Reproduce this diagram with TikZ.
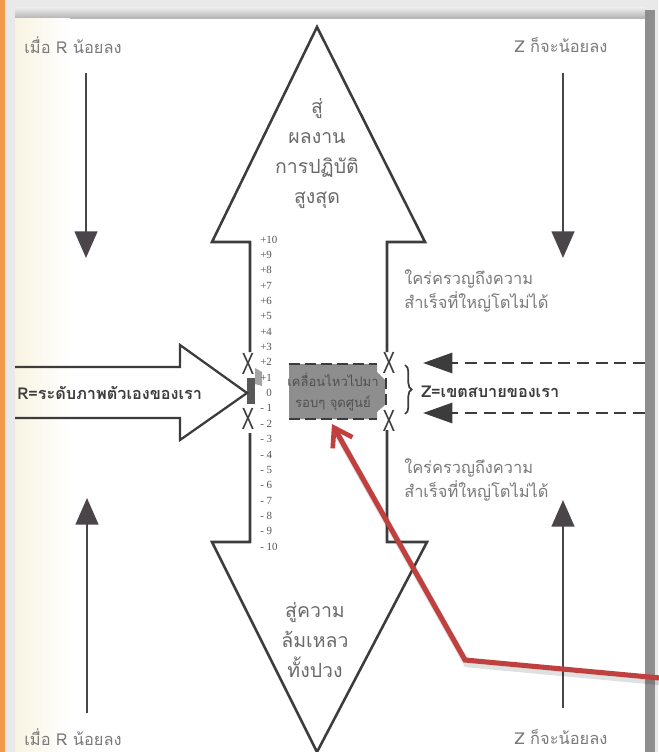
\documentclass[tikz,border=0pt]{standalone}
\usepackage{fontspec}
\setmainfont{Liberation Serif}
\newfontfamily\thai[Script=Thai]{Loma}
\newfontfamily\sansx{Liberation Sans}
\usetikzlibrary{arrows.meta,decorations.pathreplacing}
\definecolor{ink}{HTML}{3C3C3C}
\definecolor{ink2}{HTML}{4A4548}
\definecolor{txtgray}{HTML}{7A7A7A}
\definecolor{midgray}{HTML}{6A6A6A}
\definecolor{numc}{HTML}{555555}
\definecolor{boxg}{HTML}{8E8E8E}
\definecolor{redl}{HTML}{C0403F}
\definecolor{framelight}{HTML}{E9E9E9}
\definecolor{bandgray}{HTML}{8E8E8E}
\definecolor{orangeb}{HTML}{F29A4A}
\definecolor{cream}{HTML}{F8F4E2}
\tikzset{
  outline/.style={draw=ink, line width=1.9pt, line join=miter},
  gtext/.style={font=\thai\fontsize{12.3}{18.5}\selectfont, text=txtgray, inner sep=0pt},
  bigtext/.style={font=\thai\fontsize{14.6}{22.5}\selectfont, text=midgray, align=center, inner sep=0pt},
  boldlab/.style={font=\thai\bfseries\fontsize{12.2}{14}\selectfont, text=ink, inner sep=0pt},
  num/.style={font=\fontsize{8.2}{9}\selectfont, text=numc, anchor=west, inner sep=0pt},
  xmark/.style={font=\sansx\fontsize{23}{23}\selectfont, text=ink, inner sep=0pt},
  varrow/.style={draw=ink2, line width=1.9pt, -{Triangle[length=20pt,width=17pt]}},
  zarrow/.style={draw=ink, line width=2.2pt, dash pattern=on 9pt off 5pt, -{Triangle[length=22pt,width=15pt]}},
  redline/.style={draw=redl, line width=3.8pt, line join=miter},
  shadowline/.style={draw=black, opacity=0.12, line width=5pt},
}
\begin{document}
\begin{tikzpicture}[x=0.75pt,y=-0.75pt]
\useasboundingbox (0,0) rectangle (658,752);
% ---- frame ----
\fill[framelight] (0,0) rectangle (658,752);
\fill[orangeb] (0,0) rectangle (5,752);
\shade[top color=framelight, bottom color=bandgray!70] (15,8) rectangle (645,19);
\fill[bandgray] (645,10) rectangle (655,752);
\fill[white] (15,19) rectangle (645,752);
\shade[left color=cream, right color=white] (15,19) rectangle (70,752);

% ---- central double arrow ----
\draw[outline] (250,352) -- (250,242) -- (212,242) -- (317,27) -- (425,242) -- (387,242) -- (387,352);
\draw[outline] (250,433) -- (250,542) -- (212,542) -- (317,752) -- (427,542) -- (387,542) -- (387,430);
\node[bigtext] (up) at (317,154) {สู่\\ผลงาน\\การปฏิบัติ\\สูงสุด};
\node[bigtext] (down) at (315,640) {สู่ความ\\ล้มเหลว\\ทั้งปวง};

% ---- left block at shaft ----
\fill[ink!85] (247,378) rectangle (255,404);
\fill[boxg!80] (255,368) -- (262,372) -- (262,386) -- (255,384) -- cycle;

% ---- scale ----
\foreach \n in {1,...,10}{
  \node[num] at (260,{393-15.35*\n}) {+\n};
  \node[num] at (260,{393+15.35*\n}) {- \n};
}
\node[num] (zero) at (266,393) {0};

% ---- grey box ----
\fill[boxg] (289,364) -- (377,364) -- (377,372) -- (385,380) -- (385,405) -- (377,412) -- (377,419) -- (289,419) -- cycle;
\draw[ink, line width=2.2pt, dash pattern=on 8pt off 4pt] (289,364) -- (377,364);
\draw[ink, line width=2.2pt, dash pattern=on 8pt off 4pt] (289,419) -- (377,419);
\draw[ink, line width=2pt, dash pattern=on 8pt off 4pt] (386,378) -- (386,406);
\node[font=\thai\fontsize{9.8}{16}\selectfont, text=ink!90, align=center, inner sep=0pt] (boxtext) at (333,392) {เคลื่อนไหวไปมา\\รอบๆ จุดศูนย์};

% ---- X marks ----
\node[xmark] (xl1) at (248,364) {\scalebox{0.62}[1]{X}};
\node[xmark] (xl2) at (248,419) {\scalebox{0.62}[1]{X}};
\node[xmark] (xr1) at (389,363) {\scalebox{0.62}[1]{X}};
\node[xmark] (xr2) at (389,421) {\scalebox{0.62}[1]{X}};

% ---- R arrow ----
\draw[outline, line width=1.7pt] (15,367) -- (180,367) -- (180,345) -- (247,393) -- (180,440) -- (180,418) -- (15,418);
\node[boldlab, anchor=west] (rlab) at (17,393) {R=ระดับภาพตัวเองของเรา};

% ---- Z arrows ----
\coordinate (za1) at (645,363); \coordinate (za2) at (423,363);
\coordinate (zb1) at (645,413); \coordinate (zb2) at (423,413);
\draw[zarrow] (za1) -- (za2);
\draw[zarrow] (zb1) -- (zb2);
\draw[ink, line width=1.3pt, decorate, decoration={brace, amplitude=5pt}] (405,365) -- (405,414);
\node[boldlab, anchor=west] (zlab) at (421,392) {Z=เขตสบายของเรา};

% ---- side texts ----
\node[gtext, anchor=west, align=left] (t1) at (404,291) {ใคร่ครวญถึงความ\\สำเร็จที่ใหญ่โตไม่ได้};
\node[gtext, anchor=west, align=left] (t2) at (404,480) {ใคร่ครวญถึงความ\\สำเร็จที่ใหญ่โตไม่ได้};

% ---- corner texts ----
\node[gtext] (c1) at (73,45) {เมื่อ R น้อยลง};
\node[gtext] (c2) at (561,45) {Z ก็จะน้อยลง};
\node[gtext] (c3) at (73,737) {เมื่อ R น้อยลง};
\node[gtext] (c4) at (561,737) {Z ก็จะน้อยลง};

% ---- vertical arrows ----
\coordinate (la1) at (86,73);  \coordinate (la2) at (86,258);
\coordinate (ra1) at (563,73); \coordinate (ra2) at (563,258);
\coordinate (lb1) at (87,713); \coordinate (lb2) at (87,498);
\coordinate (rb1) at (563,708); \coordinate (rb2) at (563,500);
\draw[varrow] (la1) -- (la2);
\draw[varrow] (ra1) -- (ra2);
\draw[varrow] (lb1) -- (lb2);
\draw[varrow] (rb1) -- (rb2);

% ---- red pointer ----
\coordinate (rp0) at (660,678);
\coordinate (rpk) at (465,660);
\coordinate (rpt) at (332,424);
\draw[shadowline] ([shift={(2,4)}]rp0) -- ([shift={(2,4)}]rpk) -- ([shift={(2,4)}]rpt);
\draw[redline, -{Straight Barb[length=13pt,width=17pt,line width=3.5pt]}] (rp0) -- (rpk) -- (rpt);
\end{tikzpicture}
\end{document}
